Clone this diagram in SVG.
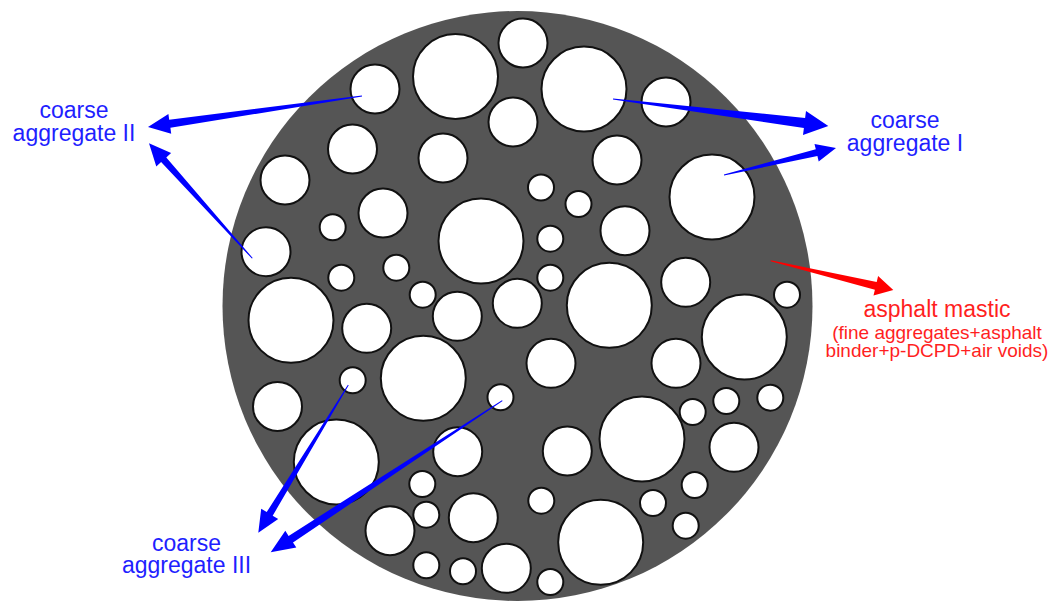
<svg xmlns="http://www.w3.org/2000/svg" width="1053" height="603" viewBox="0 0 1053 603">
<style>
.agg{fill:#fff;stroke:#111;stroke-width:2}
.lbl{font-family:"Liberation Sans",Arial,sans-serif;font-size:23px;text-anchor:middle}
.blue{fill:#1f1fff}
.red{fill:#ff1f1f}
.sub{font-size:19px}
.ab{fill:#0000ff}
.ar{fill:#ff0000}
</style>
<g id="specimen">
<circle cx="517.5" cy="306" r="295" fill="#555555"/>
<g id="aggregates">
<circle class="agg" cx="375" cy="89" r="24.5"/>
<circle class="agg" cx="455.5" cy="76.5" r="42.5"/>
<circle class="agg" cx="523" cy="43" r="24.5"/>
<circle class="agg" cx="584" cy="89" r="42.5"/>
<circle class="agg" cx="666" cy="102" r="24.5"/>
<circle class="agg" cx="513" cy="122" r="24.5"/>
<circle class="agg" cx="352.5" cy="149" r="24.5"/>
<circle class="agg" cx="443" cy="158" r="24.5"/>
<circle class="agg" cx="617" cy="160" r="24.5"/>
<circle class="agg" cx="285" cy="180" r="24.5"/>
<circle class="agg" cx="541" cy="187.5" r="13"/>
<circle class="agg" cx="578.5" cy="204" r="13"/>
<circle class="agg" cx="712" cy="197" r="42.5"/>
<circle class="agg" cx="383" cy="213" r="24.5"/>
<circle class="agg" cx="332.7" cy="227.3" r="13"/>
<circle class="agg" cx="481" cy="241" r="42.5"/>
<circle class="agg" cx="550.3" cy="238.7" r="13"/>
<circle class="agg" cx="625" cy="230.7" r="24.5"/>
<circle class="agg" cx="266" cy="251.7" r="24.5"/>
<circle class="agg" cx="341.3" cy="277.7" r="13"/>
<circle class="agg" cx="396.3" cy="267.7" r="13"/>
<circle class="agg" cx="422.7" cy="294.7" r="13"/>
<circle class="agg" cx="550.3" cy="277.7" r="13"/>
<circle class="agg" cx="291" cy="320.3" r="42.5"/>
<circle class="agg" cx="366.7" cy="328.3" r="24.5"/>
<circle class="agg" cx="457.3" cy="316.3" r="24.5"/>
<circle class="agg" cx="517.3" cy="303.3" r="24.5"/>
<circle class="agg" cx="609.3" cy="305.3" r="42.5"/>
<circle class="agg" cx="685.7" cy="282.3" r="24.5"/>
<circle class="agg" cx="787" cy="294.7" r="13"/>
<circle class="agg" cx="744.3" cy="337" r="42.5"/>
<circle class="agg" cx="423.3" cy="378.3" r="42.5"/>
<circle class="agg" cx="352.7" cy="380.3" r="13"/>
<circle class="agg" cx="277.5" cy="406.5" r="24.5"/>
<circle class="agg" cx="500.5" cy="397.3" r="13"/>
<circle class="agg" cx="551" cy="363.3" r="24.5"/>
<circle class="agg" cx="676" cy="363.3" r="24.5"/>
<circle class="agg" cx="726.3" cy="401" r="13"/>
<circle class="agg" cx="770.3" cy="397.7" r="13"/>
<circle class="agg" cx="692.7" cy="412" r="13"/>
<circle class="agg" cx="642" cy="439" r="42.5"/>
<circle class="agg" cx="567.3" cy="451" r="24.5"/>
<circle class="agg" cx="734" cy="447.3" r="24.5"/>
<circle class="agg" cx="694.7" cy="485" r="13"/>
<circle class="agg" cx="541.3" cy="500.7" r="13"/>
<circle class="agg" cx="653" cy="503" r="13"/>
<circle class="agg" cx="685.7" cy="525.7" r="13"/>
<circle class="agg" cx="600.7" cy="542.3" r="42.5"/>
<circle class="agg" cx="550.3" cy="582" r="13"/>
<circle class="agg" cx="336.3" cy="462" r="42.5"/>
<circle class="agg" cx="457.7" cy="451.7" r="24.5"/>
<circle class="agg" cx="422.3" cy="484" r="13"/>
<circle class="agg" cx="426.3" cy="514.7" r="13"/>
<circle class="agg" cx="390" cy="530.7" r="24.5"/>
<circle class="agg" cx="473.3" cy="517.7" r="24.5"/>
<circle class="agg" cx="426.3" cy="565.3" r="13"/>
<circle class="agg" cx="463" cy="571.3" r="13"/>
<circle class="agg" cx="506.3" cy="568.3" r="24.5"/>
</g>
</g>
<g id="connectors">
<polygon class="ab" points="361.9,95.5 169.2,119.8 168.4,113.9 148,127 171.2,133.7 170.4,127.8 362.1,96.5"/>
<polygon class="ab" points="252.7,258.0 166.3,157.4 171.1,153.0 149,143.3 156.3,166.4 161.1,162.0 251.9,258.6"/>
<polygon class="ab" points="612.9,99.5 803.9,128.0 803.0,134.9 828.3,126 806.0,111.1 805.1,118.0 613.1,98.5"/>
<polygon class="ab" points="724.1,175.5 817.4,156.1 818.7,161.4 836,148 814.5,144.0 815.8,149.3 723.9,174.5"/>
<polygon class="ar" points="770.6,261.2 874.9,289.7 873.5,295.5 893.3,290 878.1,276.1 876.7,281.9 770.8,260.2"/>
<polygon class="ab" points="347.9,384.7 266.7,512.1 261.2,508.7 258.3,532.7 278.2,519.1 272.7,515.7 348.7,385.3"/>
<polygon class="ab" points="502.0,400.3 288.6,535.9 285.3,530.8 270.7,552.3 296.3,547.6 293.0,542.5 502.6,401.1"/>
</g>
<g id="label-coarse-II">
<text class="lbl blue" x="74" y="118">coarse</text>
<text class="lbl blue" x="74" y="141">aggregate II</text>
</g>
<g id="label-coarse-I">
<text class="lbl blue" x="905" y="128">coarse</text>
<text class="lbl blue" x="905" y="151">aggregate I</text>
</g>
<g id="label-coarse-III">
<text class="lbl blue" x="186.5" y="551">coarse</text>
<text class="lbl blue" x="186.5" y="573">aggregate III</text>
</g>
<g id="label-mastic">
<text class="lbl red" x="937" y="317">asphalt mastic</text>
<text class="lbl red sub" x="937" y="339">(fine aggregates+asphalt</text>
<text class="lbl red sub" x="937" y="357">binder+p-DCPD+air voids)</text>
</g>
</svg>
